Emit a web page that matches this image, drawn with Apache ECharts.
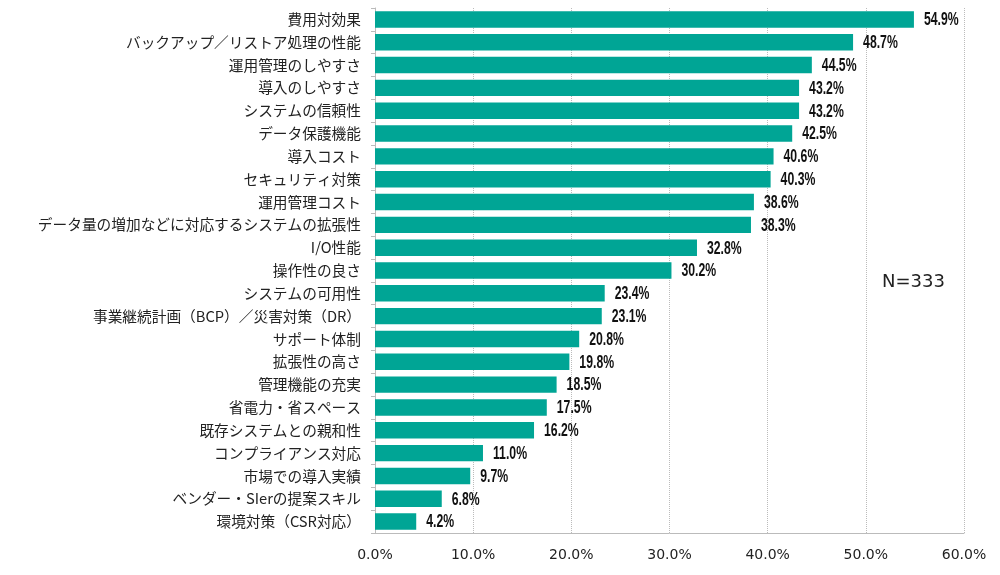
<!DOCTYPE html>
<html><head><meta charset="utf-8">
<script src="https://cdn.jsdelivr.net/npm/echarts@6/dist/echarts.min.js"></script>
<style>html,body{margin:0;padding:0;background:#fff}#c{width:1000px;height:575px}</style>
</head><body><div id="c"></div>
<script>
const categories = ["費用対効果","バックアップ／リストア処理の性能","運用管理のしやすさ","導入のしやすさ","システムの信頼性","データ保護機能","導入コスト","セキュリティ対策","運用管理コスト","データ量の増加などに対応するシステムの拡張性","I/O性能","操作性の良さ","システムの可用性","事業継続計画（BCP）／災害対策（DR）","サポート体制","拡張性の高さ","管理機能の充実","省電力・省スペース","既存システムとの親和性","コンプライアンス対応","市場での導入実績","ベンダー・SIerの提案スキル","環境対策（CSR対応）"];
const values = [54.9,48.7,44.5,43.2,43.2,42.5,40.6,40.3,38.6,38.3,32.8,30.2,23.4,23.1,20.8,19.8,18.5,17.5,16.2,11.0,9.7,6.8,4.2];
const xTicks = [0,10,20,30,40,50,60];
const note = "N=333";

const chart = echarts.init(document.getElementById('c'));
chart.setOption({
  animation:false,
  grid:{left:375,right:36,top:8,bottom:42,containLabel:false},
  xAxis:{type:'value',min:xTicks[0],max:xTicks[xTicks.length-1],interval:10,
    axisLine:{show:true,lineStyle:{color:'#bbb'}},
    axisTick:{show:false},
    axisLabel:{formatter:v=>v.toFixed(1)+'%',color:'#222',fontSize:14,fontFamily:'DejaVu Sans',margin:15},
    splitLine:{show:true,lineStyle:{color:'#bbb',type:'dotted'}}},
  yAxis:{type:'category',data:categories,inverse:true,
    axisLine:{show:true,lineStyle:{color:'#bbb'}},
    axisTick:{show:true,length:4,lineStyle:{color:'#bbb'}},
    axisLabel:{color:'#222',fontSize:14.7,fontFamily:'Noto Sans CJK JP',margin:14}},
  series:[
    {type:'bar',data:values,barCategoryGap:'28%',itemStyle:{color:'#00A595'}},
    {type:'custom',data:values.map((v,i)=>[v,i]),encode:{x:0,y:1},silent:true,z:5,
      renderItem:(params,api)=>{
        const v = api.value(0);
        const p = api.coord([v, api.value(1)]);
        return {type:'text',x:p[0]+10,y:p[1]+1,scaleX:0.7,
          style:{text:v.toFixed(1)+'%',fill:'#111',font:'bold 17.5px "Liberation Sans", sans-serif',
            align:'left',verticalAlign:'middle'}};
      }}
  ],
  graphic:[{type:'text',left:882,top:273,style:{text:note,fontSize:18,fill:'#222',fontFamily:'DejaVu Sans'}}]
});
</script></body></html>
